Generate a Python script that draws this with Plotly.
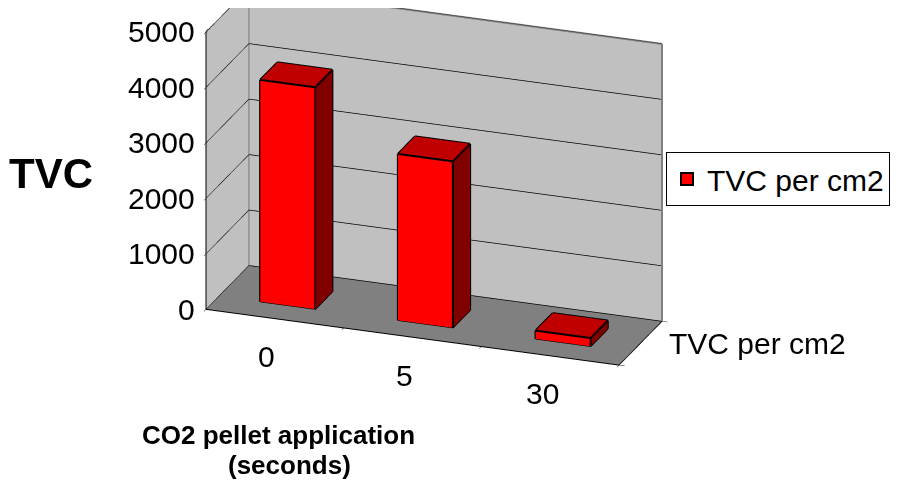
import plotly.graph_objects as go

categories = ["0", "5", "30"]
values = [4000, 3000, 150]
series_name = "TVC per cm2"
z_ticks = [0, 1000, 2000, 3000, 4000, 5000]
z_max = 5000

FRONT = "#FF0000"
TOP = "#C00000"
SIDE = "#800000"
FONT = "Liberation Sans, Arial, sans-serif"

bw = 0.2   # half width of bar in category units
d0, d1 = 0.3, 0.7  # depth extent
xlo, xhi = -0.5, len(categories) - 0.5

xs, ys, zs, I, J, K, fcol = [], [], [], [], [], [], []
ex, ey, ez = [], [], []
for idx, v in enumerate(values):
    x0, x1 = idx - bw, idx + bw
    base = len(xs)
    corners = [(x0, d0, 0), (x1, d0, 0), (x1, d1, 0), (x0, d1, 0),
               (x0, d0, v), (x1, d0, v), (x1, d1, v), (x0, d1, v)]
    for c in corners:
        xs.append(c[0]); ys.append(c[1]); zs.append(c[2])
    faces = [
        ((0, 1, 5), FRONT), ((0, 5, 4), FRONT),
        ((4, 5, 6), TOP), ((4, 6, 7), TOP),
        ((1, 2, 6), SIDE), ((1, 6, 5), SIDE),
        ((3, 2, 6), SIDE), ((3, 6, 7), SIDE),
        ((0, 3, 7), SIDE), ((0, 7, 4), SIDE),
        ((0, 1, 2), SIDE), ((0, 2, 3), SIDE),
    ]
    for (a, b, c), col in faces:
        I.append(base + a); J.append(base + b); K.append(base + c); fcol.append(col)
    edges = [(0, 1), (1, 2), (2, 3), (3, 0), (4, 5), (5, 6), (6, 7), (7, 4),
             (0, 4), (1, 5), (2, 6), (3, 7)]
    for a, b in edges:
        ex += [corners[a][0], corners[b][0], None]
        ey += [corners[a][1], corners[b][1], None]
        ez += [corners[a][2], corners[b][2], None]

# grey outline of the walls
wx = [xlo, xlo, None, xlo, xhi, None, xlo, xlo, None, xhi, xhi]
wy = [0, 1, None, 1, 1, None, 1, 1, None, 1, 1]
wz = [z_max, z_max, None, z_max, z_max, None, 0, z_max, None, 0, z_max]

fig = go.Figure()
fig.add_trace(go.Scatter3d(
    x=wx, y=wy, z=wz, mode="lines", line=dict(color="#808080", width=4),
    hoverinfo="skip", showlegend=False,
))
fig.add_trace(go.Mesh3d(
    x=xs, y=ys, z=zs, i=I, j=J, k=K, facecolor=fcol, flatshading=True,
    lighting=dict(ambient=1, diffuse=0, specular=0, roughness=1, fresnel=0),
    hoverinfo="skip", showlegend=False, name=series_name,
))
fig.add_trace(go.Scatter3d(
    x=ex, y=ey, z=ez, mode="lines", line=dict(color="black", width=4),
    hoverinfo="skip", showlegend=False,
))
# legend entry
fig.add_trace(go.Bar(
    x=[None], y=[None], name=series_name,
    marker=dict(color=FRONT, line=dict(color="black", width=1.5)),
    showlegend=True,
))

axis_common = dict(
    showspikes=False, zeroline=False, showline=True, linecolor="black", linewidth=2,
    showticklabels=False, title=dict(text=""), ticks="outside", tickcolor="black",
    ticklen=6,
)

TICKFONT = dict(family=FONT, size=30, color="black")
scene_ann = []
for t in z_ticks:
    scene_ann.append(dict(x=xlo, y=0, z=t, text=str(t), showarrow=False,
                          xanchor="right", yanchor="middle", xshift=-9,
                          font=TICKFONT))
for idx, c in enumerate(categories):
    scene_ann.append(dict(x=idx, y=0, z=0, text=c, showarrow=False,
                          xanchor="center", yanchor="middle", xshift=-8, yshift=-38,
                          font=TICKFONT))
scene_ann.append(dict(x=xhi, y=0.5, z=0, text=series_name, showarrow=False,
                      xanchor="left", yanchor="middle", xshift=26,
                      font=TICKFONT))

cz = -0.325
fig.update_layout(
    width=898, height=483,
    paper_bgcolor="white", plot_bgcolor="white",
    margin=dict(l=0, r=0, t=0, b=0),
    font=dict(family=FONT, color="black"),
    xaxis=dict(visible=False), yaxis=dict(visible=False),
    scene=dict(
        domain=dict(x=[0.0, 0.949], y=[0.0, 1.0]),
        xaxis=dict(axis_common, range=[xlo, xhi], tickvals=[-0.5, 0.5, 1.5, 2.5],
                   showgrid=False, showbackground=True, backgroundcolor="#C0C0C0"),
        yaxis=dict(axis_common, range=[0, 1], tickvals=[0, 1],
                   showgrid=False, showbackground=True, backgroundcolor="#C0C0C0"),
        zaxis=dict(axis_common, range=[0, z_max], tickvals=z_ticks,
                   showgrid=True, gridcolor="black", gridwidth=1.5,
                   showbackground=True, backgroundcolor="#808080"),
        aspectmode="manual", aspectratio=dict(x=1.82, y=0.52, z=1.237),
        camera=dict(eye=dict(x=0.635, y=-1.746, z=0.743 + cz), up=dict(x=0, y=0, z=1),
                    center=dict(x=0, y=0, z=cz), projection=dict(type="orthographic")),
        annotations=scene_ann,
    ),
    showlegend=True,
    legend=dict(x=658 / 898, y=1 - 171 / 483, xanchor="left", yanchor="middle",
                bordercolor="black", borderwidth=1, bgcolor="white",
                font=dict(size=30, color="black"), itemsizing="constant"),
    annotations=[
        dict(text="<b>TVC</b>", x=43 / 898, y=1 - 165 / 483, xref="paper", yref="paper",
             xanchor="center", yanchor="middle", showarrow=False, font=dict(size=42)),
        dict(text="<b>CO2 pellet application</b>", x=270 / 898, y=1 - 427 / 483,
             xref="paper", yref="paper", xanchor="center", yanchor="middle",
             showarrow=False, font=dict(size=26)),
        dict(text="<b>(seconds)</b>", x=281 / 898, y=1 - 457 / 483,
             xref="paper", yref="paper", xanchor="center", yanchor="middle",
             showarrow=False, font=dict(size=26)),
    ],
)

fig.write_html("out.html")
